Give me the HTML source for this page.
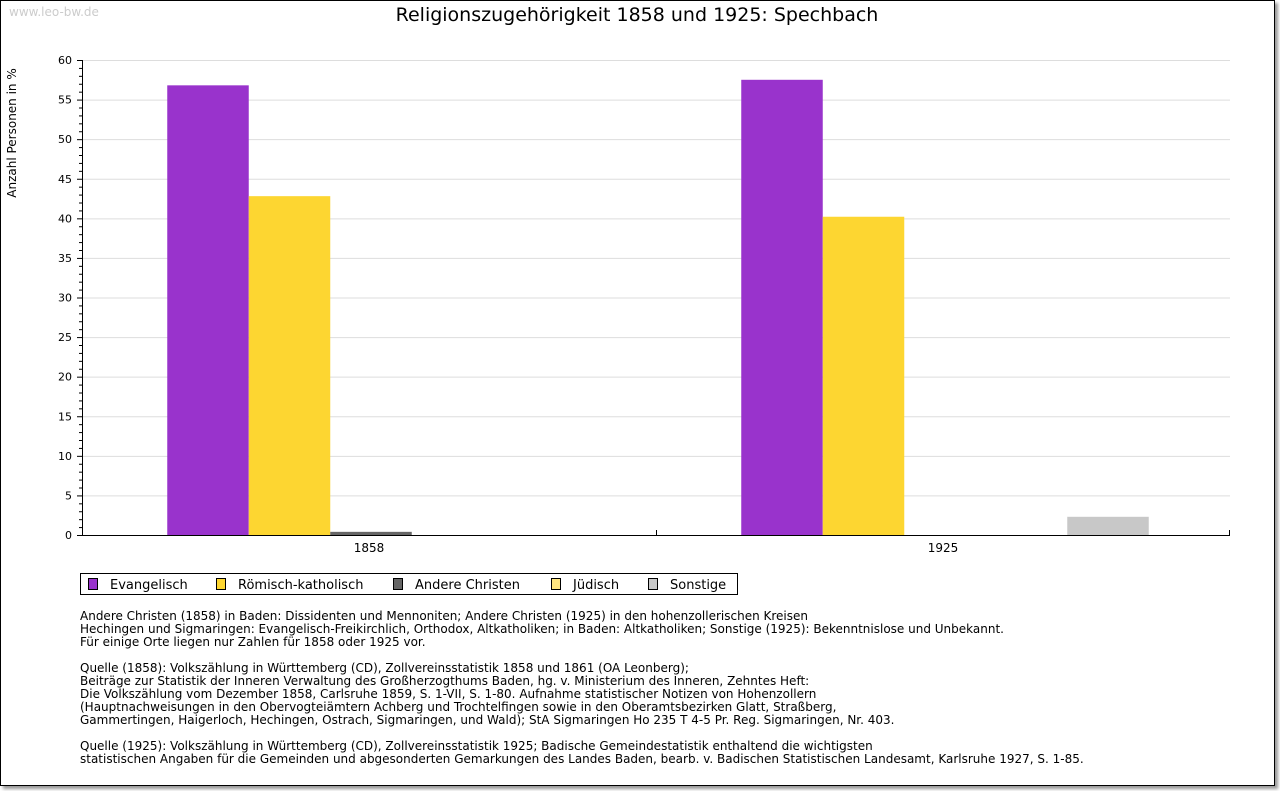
<!DOCTYPE html>
<html><head><meta charset="utf-8"><style>
body{margin:0;background:#fff;font-family:"DejaVu Sans","Liberation Sans",sans-serif;}
#frame{position:absolute;left:0;top:0;width:1273px;height:784px;border:1px solid #000;box-shadow:3px 3px 3px #999;background:#fff;}
.note{position:absolute;left:80px;font-size:12px;line-height:13px;color:#000;white-space:pre;}
</style></head><body>
<div id="frame"></div>
<svg width="1280" height="791" style="position:absolute;left:0;top:0">
<text x="9" y="16" font-size="12" fill="#ccc">www.leo-bw.de</text>
<text x="637" y="21" font-size="19" text-anchor="middle">Religionszugehörigkeit 1858 und 1925: Spechbach</text>
<text transform="translate(16,133) rotate(-90)" font-size="12" text-anchor="middle">Anzahl Personen in %</text>
<g id="g"></g>
<g>
<rect x="80.5" y="573.5" width="657" height="21" fill="#fff" stroke="#000"/>
<g id="leg"></g>
</g>
</svg>
<div class="note" style="top:610px">Andere Christen (1858) in Baden: Dissidenten und Mennoniten; Andere Christen (1925) in den hohenzollerischen Kreisen
Hechingen und Sigmaringen: Evangelisch-Freikirchlich, Orthodox, Altkatholiken; in Baden: Altkatholiken; Sonstige (1925): Bekenntnislose und Unbekannt.
Für einige Orte liegen nur Zahlen für 1858 oder 1925 vor.

Quelle (1858): Volkszählung in Württemberg (CD), Zollvereinsstatistik 1858 und 1861 (OA Leonberg);
Beiträge zur Statistik der Inneren Verwaltung des Großherzogthums Baden, hg. v. Ministerium des Inneren, Zehntes Heft:
Die Volkszählung vom Dezember 1858, Carlsruhe 1859, S. 1-VII, S. 1-80. Aufnahme statistischer Notizen von Hohenzollern
(Hauptnachweisungen in den Obervogteiämtern Achberg und Trochtelfingen sowie in den Oberamtsbezirken Glatt, Straßberg,
Gammertingen, Haigerloch, Hechingen, Ostrach, Sigmaringen, und Wald); StA Sigmaringen Ho 235 T 4-5 Pr. Reg. Sigmaringen, Nr. 403.

Quelle (1925): Volkszählung in Württemberg (CD), Zollvereinsstatistik 1925; Badische Gemeindestatistik enthaltend die wichtigsten
statistischen Angaben für die Gemeinden und abgesonderten Gemarkungen des Landes Baden, bearb. v. Badischen Statistischen Landesamt, Karlsruhe 1927, S. 1-85.</div>
<script>
const categories=["1858","1925"];
const seriesNames=["Evangelisch","Römisch-katholisch","Andere Christen","Jüdisch","Sonstige"];
const colors=["#9933cc","#fdd631","#666666","#ffe680","#c8c8c8"];
const evangelisch=[56.8,57.5];
const katholisch=[42.8,40.2];
const andere=[0.4,0];
const juedisch=[0,0];
const sonstige=[0,2.3];
const yTicks=[0,5,10,15,20,25,30,35,40,45,50,55,60];
const series=[evangelisch,katholisch,andere,juedisch,sonstige];
const NS="http://www.w3.org/2000/svg";
const g=document.getElementById('g');
const X0=82,X1=1230,Y0=535,Y1=60,YMAX=60;
const y=v=>Y0-(v/YMAX)*(Y0-Y1);
const catW=(X1-X0)/categories.length;
const barW=81.5;
function mk(t,a){const e=document.createElementNS(NS,t);for(const k in a)e.setAttribute(k,a[k]);return e;}
yTicks.forEach(t=>{
 if(t>0){const l=mk('line',{x1:X0,x2:X1,y1:y(t)+.5,y2:y(t)+.5,stroke:'#ddd'});
 
 g.appendChild(l);}
 const tx=mk('text',{x:72,y:y(t)+4,'font-size':11,'text-anchor':'end'});tx.textContent=t;
 
 g.appendChild(tx);
 g.appendChild(mk('line',{x1:X0-5,x2:X0,y1:y(t)+.5,y2:y(t)+.5,stroke:'#000'}));
});
for(let v=1;v<YMAX;v++){if(v%5)g.appendChild(mk('line',{x1:X0-3,x2:X0,y1:y(v)+.5,y2:y(v)+.5,stroke:'#000'}));}
categories.forEach((c,ci)=>{
 const cx=X0+catW*(ci+.5);const start=cx-barW*series.length/2+2;
 series.forEach((s,si)=>{
  if(s[ci]<=0)return;
  const r=mk('rect',{x:start+si*barW,y:y(s[ci]),width:barW,height:Y0-y(s[ci]),fill:colors[si]});
  
  g.appendChild(r);
 });
 const tx=mk('text',{x:cx,y:552,'font-size':12,'text-anchor':'middle'});tx.textContent=c;
 
 g.appendChild(tx);
 if(ci>0)g.appendChild(mk('line',{x1:X0+catW*ci+.5,x2:X0+catW*ci+.5,y1:Y0-5,y2:Y0,stroke:'#000'}));
});
g.appendChild(mk('line',{x1:X1-.5,x2:X1-.5,y1:Y0-5,y2:Y0,stroke:'#000'}));
g.appendChild(mk('line',{x1:X0+.5,x2:X0+.5,y1:Y1,y2:Y0,stroke:'#000'}));
g.appendChild(mk('line',{x1:X0,x2:X1,y1:Y0+.5,y2:Y0+.5,stroke:'#000'}));
const leg=document.getElementById('leg');
const lx=[88,216,393,551,648];
seriesNames.forEach((n,i)=>{
 const r=mk('rect',{x:lx[i]+.5,y:578.5,width:9,height:11,fill:colors[i],stroke:'#000'});
 
 leg.appendChild(r);
 const t=mk('text',{x:lx[i]+22,y:589,'font-size':13});t.textContent=n;
 
 leg.appendChild(t);
});
</script>
</body></html>
